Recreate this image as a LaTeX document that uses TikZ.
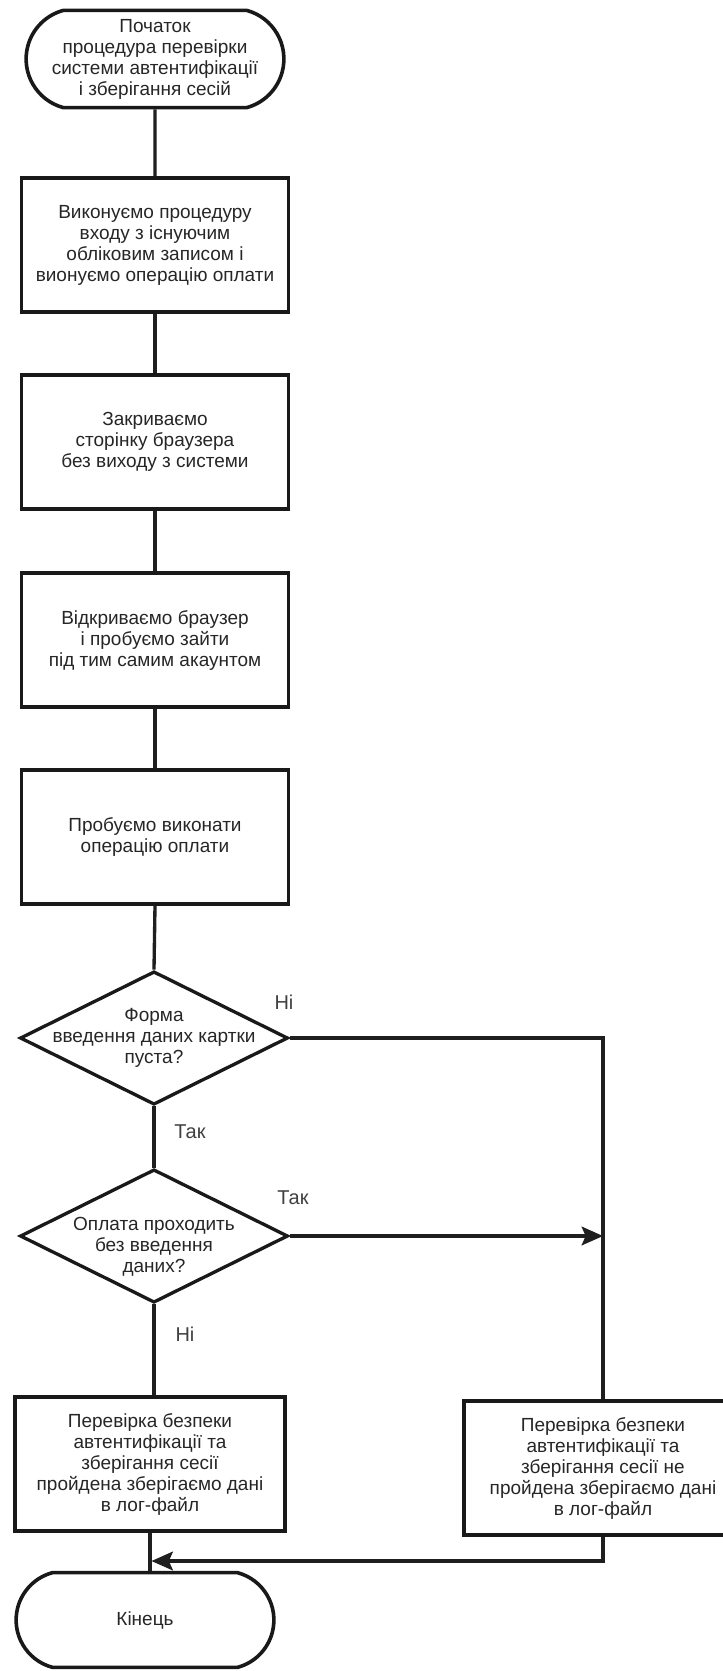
\documentclass[tikz,border=0pt]{standalone}
\usepackage{fontspec}
\setmainfont{Liberation Sans}
\usetikzlibrary{shapes.geometric,shapes.misc,arrows.meta}

\begin{document}
\begin{tikzpicture}[x=0.75pt,y=-0.75pt,
    every node/.style={font=\fontsize{14.25}{15.75}\selectfont,text=black!85},
    term/.style={rounded rectangle,rounded rectangle arc length=150,draw=black!90,line width=2.7pt,
      minimum width=200pt,minimum height=73pt,align=center},
    box/.style={rectangle,draw=black!90,line width=2.6pt,minimum width=200pt,minimum height=100.5pt,align=center},
    decision/.style={diamond,draw=black!90,line width=2.5pt,minimum width=201pt,minimum height=100pt,inner sep=0pt},
    dtext/.style={align=center},
    lbl/.style={font=\fontsize{15}{18}\selectfont,text=black!75},
    flow/.style={draw=black!88,line width=2.5pt},
    >={Stealth[length=16pt,width=14pt,inset=3pt]}]
  \useasboundingbox (0,0) rectangle (723,1671);
  \clip (0,0) rectangle (723,1671);

  \node[term] (start) at (155,59) {Початок\\процедура перевірки\\системи автентифікації\\і зберігання сесій};
  \node[box] (b1) at (155,245) {Виконуємо процедуру\\входу з існуючим\\обліковим записом і\\вионуємо операцію оплати};
  \node[box] (b2) at (155,442) {Закриваємо\\сторінку браузера\\без виходу з системи};
  \node[box] (b3) at (155,640) {Відкриваємо браузер\\і пробуємо зайти\\під тим самим акаунтом};
  \node[box] (b4) at (155,837) {Пробуємо виконати\\операцію оплати};
  \node[decision] (d1) at (154,1038) {};
  \node[dtext] (t1) at (154,1038) {Форма\\введення даних картки\\пуста?};
  \node[decision] (d2) at (154,1236) {};
  \node[dtext] (t2) at (154,1247) {Оплата проходить\\без введення\\даних?};
  \node[box,minimum width=202.5pt] (b5) at (150,1464) {Перевірка безпеки\\автентифікації та\\зберігання сесії\\пройдена зберігаємо дані\\в лог-файл};
  \node[box,minimum width=208.5pt] (b6) at (603,1468) {Перевірка безпеки\\автентифікації та\\зберігання сесії не\\пройдена зберігаємо дані\\в лог-файл};
  \node[term,minimum height=71pt] (end) at (145,1620) {Кінець};
  \coordinate (join) at (151.5,1561);

  \node[lbl] (no1) at (284,1002) {Ні};
  \node[lbl] (yes1) at (190,1132) {Так};
  \node[lbl] (yes2) at (293,1198) {Так};
  \node[lbl] (no2) at (185,1334) {Ні};

  \draw[flow] (start) -- (b1);
  \draw[flow] (b1) -- (b2);
  \draw[flow] (b2) -- (b3);
  \draw[flow] (b3) -- (b4);
  \draw[flow] (b4.south) -- (d1.north);
  \draw[flow] (d1.south) -- (d2.north);
  \draw[flow] (d1.east) -| (b6.north);
  \draw[flow,->] (d2.east) -- (d2.east -| b6.north);
  \draw[flow] (d2.south) -- (d2.south |- b5.north);
  \draw[flow] (b5.south) -- (b5.south |- end.north);
  \draw[flow,->] (b6.south) |- (join);
\end{tikzpicture}
\end{document}
